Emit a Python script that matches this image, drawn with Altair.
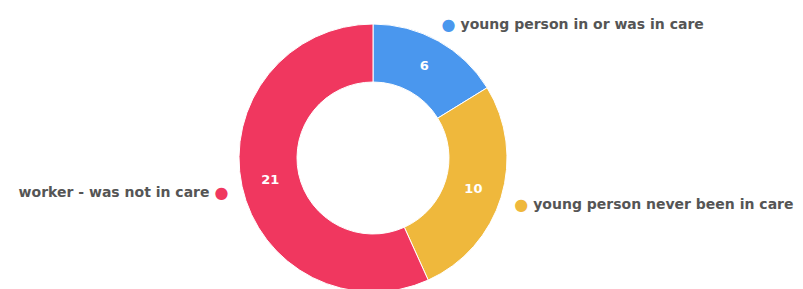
import altair as alt
import pandas as pd

categories = ["young person in or was in care", "young person never been in care", "worker - was not in care"]
values = [6, 10, 21]
colors = ["#4A97EE", "#EFB83C", "#F0375F"]

total = sum(values)
cum = 0
right_labels, left_labels = [], []
for c, v in zip(categories, values):
    mid = (cum + v / 2) / total
    cum += v
    right_labels.append(c if mid < 0.5 else "")
    left_labels.append(c if mid >= 0.5 else "")

df = pd.DataFrame({
    "category": categories,
    "value": values,
    "order": list(range(len(categories))),
    "right_label": right_labels,
    "left_label": left_labels,
})

color_enc = alt.Color("category:N", scale=alt.Scale(domain=categories, range=colors), legend=None)
base = alt.Chart(df).encode(
    theta=alt.Theta("value:Q", stack=True),
    order=alt.Order("order:Q"),
)

arc = base.mark_arc(outerRadius=134, innerRadius=76, stroke="white", strokeWidth=1).encode(color=color_enc)
nums = base.mark_text(radius=105, fontSize=13, fontWeight="bold", color="white", font="DejaVu Sans").encode(text="value:Q")
dots = base.mark_text(radius=155, dy=2, fontSize=16, text="●", font="DejaVu Sans").encode(color=color_enc)
rlab = base.mark_text(radius=155, dx=12, dy=2, align="left", baseline="middle", fontSize=14,
                      fontWeight="bold", color="#555555", font="DejaVu Sans").encode(text="right_label:N")
llab = base.mark_text(radius=155, dx=-12, dy=2, align="right", baseline="middle", fontSize=14,
                      fontWeight="bold", color="#555555", font="DejaVu Sans").encode(text="left_label:N")

chart = alt.layer(arc, nums, dots, rlab, llab).properties(
    width=730, height=260,
    autosize=alt.AutoSizeParams(type="none"),
    padding={"left": 0, "top": 20, "right": 57, "bottom": 1},
).configure_view(stroke=None)

chart.save("out.html", embed_options={"renderer": "svg", "actions": False})
